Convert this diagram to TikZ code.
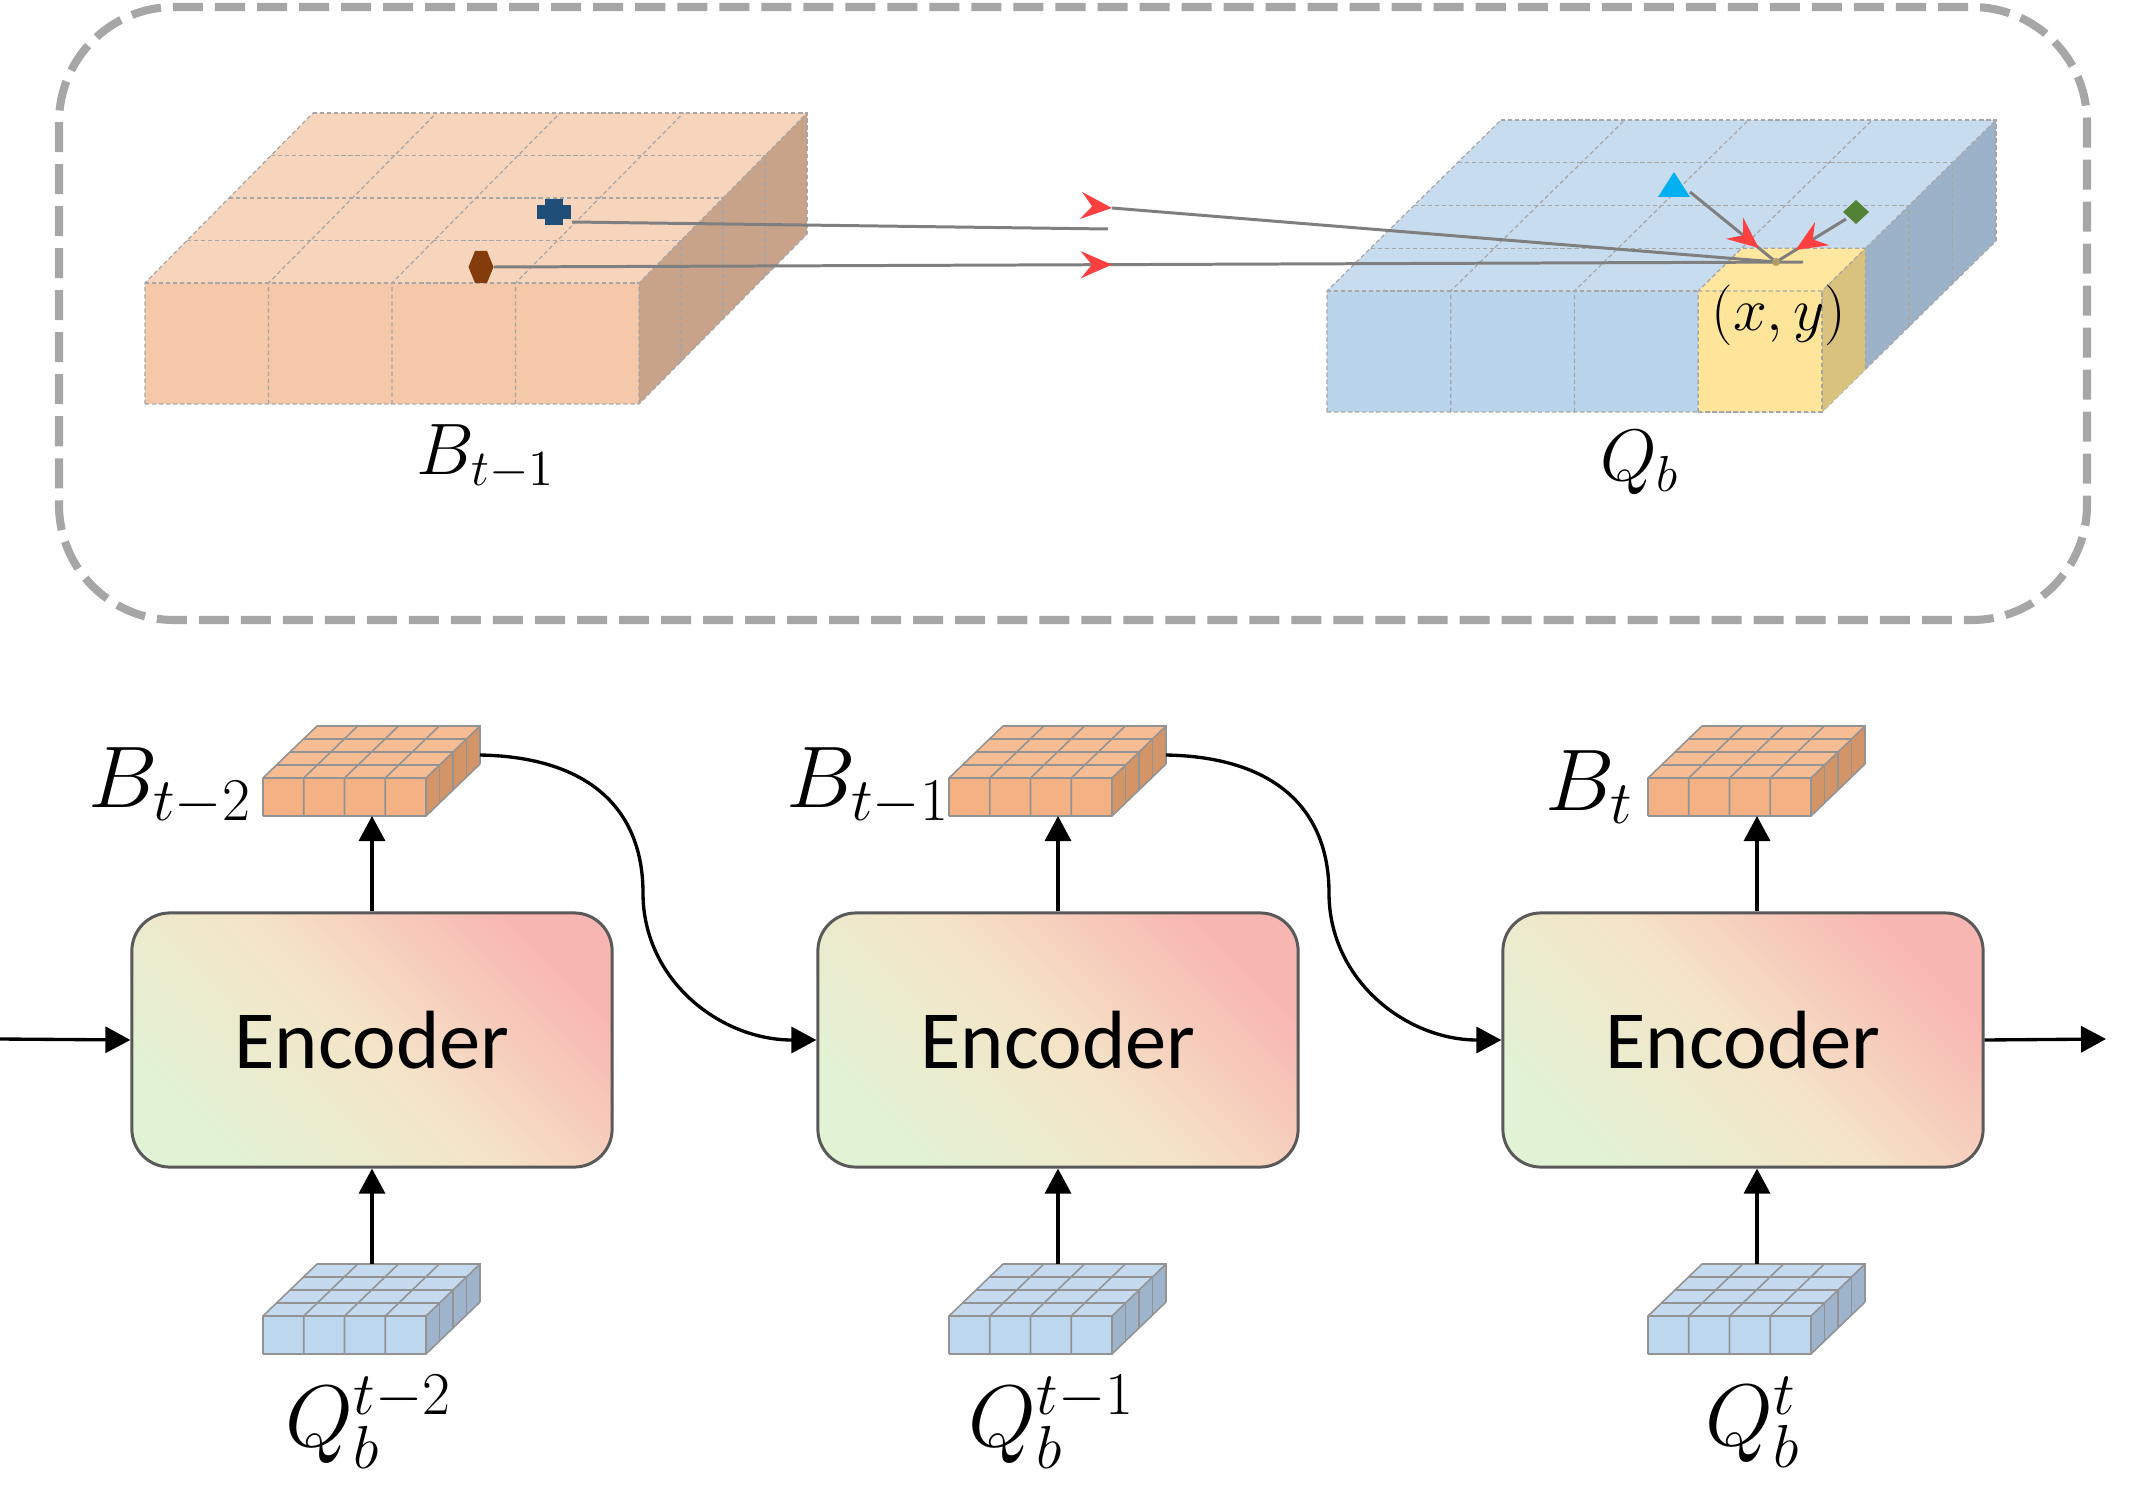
\documentclass[tikz,border=0pt]{standalone}
\usepackage{fontspec}
\newfontfamily\encfont{Carlito}
\usetikzlibrary{arrows.meta,decorations.markings}
\definecolor{oTop}{HTML}{F7D5BD}
\definecolor{oFront}{HTML}{F4C8A8}
\definecolor{oRight}{HTML}{C9A389}
\definecolor{bTop}{HTML}{C8DCF0}
\definecolor{bFront}{HTML}{BAD4EC}
\definecolor{bRight}{HTML}{9BB2C9}
\definecolor{yTop}{HTML}{FFE7A0}
\definecolor{yFront}{HTML}{FFE59A}
\definecolor{yRight}{HTML}{D9C17E}
\definecolor{soTop}{HTML}{F6BD95}
\definecolor{soFront}{HTML}{F4B183}
\definecolor{soRight}{HTML}{D39468}
\definecolor{sbTop}{HTML}{C6DAEF}
\definecolor{sbFront}{HTML}{BDD7EE}
\definecolor{sbRight}{HTML}{9DB4CC}
\definecolor{lineGray}{HTML}{7F7F7F}
\definecolor{dashGray}{HTML}{A6A6A6}
\definecolor{arrRed}{HTML}{FF4040}
\definecolor{encBorder}{HTML}{595959}
\definecolor{encPink}{HTML}{F8B6B2}
\definecolor{encMid}{HTML}{F5E4C8}
\definecolor{encGreen}{HTML}{E2F2D4}
\definecolor{mBlue}{HTML}{1F4E79}
\definecolor{mBrown}{HTML}{843C0C}
\definecolor{mCyan}{HTML}{00B0F0}
\definecolor{mGreen}{HTML}{548235}

\newcommand\myblock[9]{%
\begin{scope}[shift={(#1,#2)}]
\fill[#7] (0,0) -- (#3,0) -- ++(#5,-#6) -- ++(-#3,0) -- cycle;
\fill[#8] (0,0) rectangle (#3,#4);
\fill[#9] (#3,0) -- (#3,#4) -- ++(#5,-#6) -- ++(0,-#4) -- cycle;
\foreach \i in {0,1,2,3,4}{\draw[blockline] ({#3*\i/4},#4) -- ({#3*\i/4},0) -- ++(#5,-#6);}
\foreach \j in {1,2,3,4}{\draw[blockline] ({#5*\j/4},{-#6*\j/4}) -- ++(#3,0) -- ++(0,#4);}
\draw[blockline] (0,0) -- (#3,0);
\draw[blockline] (0,#4) -- (#3,#4) -- ++(#5,-#6);
\end{scope}}

\begin{document}
\begin{tikzpicture}[x=0.01cm,y=-0.01cm,
  biggrid/.style={draw=gray!70, line width=0.35pt, dash pattern=on 1.2pt off 0.8pt},
  smallgrid/.style={draw=gray!85, line width=0.45pt},
  gline/.style={draw=lineGray, line width=0.85pt},
  redtip/.style={postaction={decorate}, decoration={markings, mark=at position #1 with {\arrow[arrRed]{Stealth[length=3.1mm,width=2.7mm,inset=1.1mm]}}}},
  flow/.style={draw=black, line width=0.95pt, -{Triangle[length=2.5mm,width=2.6mm]}},
  encbox/.style={draw=encBorder, line width=0.85pt, rounded corners=0.38cm,
    minimum width=4.8cm, minimum height=2.54cm, inner sep=0pt,
    top color=encPink, bottom color=encGreen, middle color=encMid, shading angle=-45,
    font=\encfont\fontsize{23.5pt}{28pt}\selectfont},
  toplabel/.style={inner sep=0pt, font=\fontsize{21.5pt}{26pt}\selectfont},
  botlabel/.style={inner sep=0pt, font=\fontsize{23pt}{28pt}\selectfont}
]
\useasboundingbox (0,0) rectangle (2136,1503);

% dashed frame
\draw[dashGray, line width=2.3pt, dash pattern=on 3mm off 1.2mm, rounded corners=1.15cm]
  (59,7) rectangle (2087,620);

% big blocks
\begin{scope}[blockline/.style={biggrid}]
\myblock{145}{283}{494}{121}{168}{170}{oTop}{oFront}{oRight}
\myblock{1327}{291}{495}{121}{174}{171}{bTop}{bFront}{bRight}
\begin{scope}[shift={(1327,291)}]
\fill[yTop] (371.25,0) -- (495,0) -- ++(43.5,-42.75) -- ++(-123.75,0) -- cycle;
\fill[yFront] (371.25,0) rectangle (495,121);
\fill[yRight] (495,0) -- (495,121) -- ++(43.5,-42.75) -- ++(0,-121) -- cycle;
\draw[biggrid] (371.25,121) -- (371.25,0) -- ++(43.5,-42.75) -- ++(123.75,0) -- ++(0,121);
\draw[biggrid] (371.25,0) -- (495,0) -- ++(43.5,-42.75);
\draw[biggrid] (371.25,121) -- (495,121) -- (495,0);
\end{scope}
\end{scope}

% marker positions
\coordinate (crossR) at (572,222);
\coordinate (hexR) at (494,267);
\coordinate (gapEnd) at (1108,229);
\coordinate (gapStart) at (1112,208);
\coordinate (target) at (1776,262);
\coordinate (lowEnd) at (1803,262);
\coordinate (triR) at (1690,192);
\coordinate (diaL) at (1846,219);

% gray lines
\draw[gline] (crossR) -- (gapEnd);
\draw[gline, redtip=0] (gapStart) -- (target);
\draw[gline, redtip=0.472] (hexR) -- (lowEnd);
\draw[gline, redtip=0.8] (triR) -- (target);
\draw[gline, redtip=0.72] (diaL) -- (target);
\fill[yRight!80!black] (target) circle (4);

% markers
\fill[mBlue] (537,205) rectangle (571,219);
\fill[mBlue] (545,199) rectangle (563,225);
\fill[mBrown] (468.5,267) -- (475,251) -- (487,251) -- (493.5,267) -- (487,283) -- (475,283) -- cycle;
\fill[mCyan] (1674,172) -- (1690,197) -- (1658,197) -- cycle;
\fill[mGreen] (1856,200) -- (1869,212) -- (1856,224) -- (1843,212) -- cycle;

% top labels
\node[toplabel] (lblB) at (486,457) {$B_{t-1}$};
\node[toplabel] (lblQ) at (1640,463) {$Q_b$};
\node[inner sep=0pt, font=\fontsize{19pt}{22pt}\selectfont] (lblxy) at (1779,315) {$(x,y)$};

% encoders
\node[encbox] (enc1) at (372,1040) {Encoder};
\node[encbox] (enc2) at (1058,1040) {Encoder};
\node[encbox] (enc3) at (1743,1040) {Encoder};

% small blocks
\begin{scope}[blockline/.style={smallgrid}]
\myblock{263}{778}{163}{38}{54}{52}{soTop}{soFront}{soRight}
\myblock{949}{778}{163}{38}{54}{52}{soTop}{soFront}{soRight}
\myblock{1648}{778}{163}{38}{54}{52}{soTop}{soFront}{soRight}
\myblock{263}{1316}{163}{38}{54}{52}{sbTop}{sbFront}{sbRight}
\myblock{949}{1316}{163}{38}{54}{52}{sbTop}{sbFront}{sbRight}
\myblock{1648}{1316}{163}{38}{54}{52}{sbTop}{sbFront}{sbRight}
\end{scope}

\coordinate (b1bot) at (372,816);
\coordinate (b2bot) at (1058,816);
\coordinate (b3bot) at (1757,816);
\coordinate (q1top) at (372,1264);
\coordinate (q2top) at (1058,1264);
\coordinate (q3top) at (1757,1264);
\coordinate (b1side) at (480,755);
\coordinate (b2side) at (1166,755);
\coordinate (inStart) at (0,1039);
\coordinate (outEnd) at (2106,1039);

% bottom labels
\node[botlabel] (lB1) at (170,787) {$B_{t-2}$};
\node[botlabel] (lB2) at (868,787) {$B_{t-1}$};
\node[botlabel] (lB3) at (1590,787) {$B_{t}$};
\node[botlabel] (lQ1) at (369,1422) {$Q_b^{t-2}$};
\node[botlabel] (lQ2) at (1052,1422) {$Q_b^{t-1}$};
\node[botlabel] (lQ3) at (1753,1422) {$Q_b^{t}$};

% connectors
\draw[flow] (enc1.north) -- (b1bot);
\draw[flow] (enc2.north) -- (b2bot);
\draw[flow] (enc3.north -| b3bot) -- (b3bot);
\draw[flow] (q1top) -- (enc1.south);
\draw[flow] (q2top) -- (enc2.south);
\draw[flow] (q3top) -- (enc3.south -| q3top);
\draw[flow] (inStart) -- (enc1.west);
\draw[flow] (enc3.east) -- (outEnd);
\draw[flow] (b1side) .. controls (590,757) and (643,810) .. (643,893)
  .. controls (643,980) and (720,1040) .. (enc2.west);
\draw[flow] (b2side) .. controls (1276,757) and (1329,810) .. (1329,893)
  .. controls (1329,980) and (1406,1040) .. (enc3.west);
\end{tikzpicture}
\end{document}
